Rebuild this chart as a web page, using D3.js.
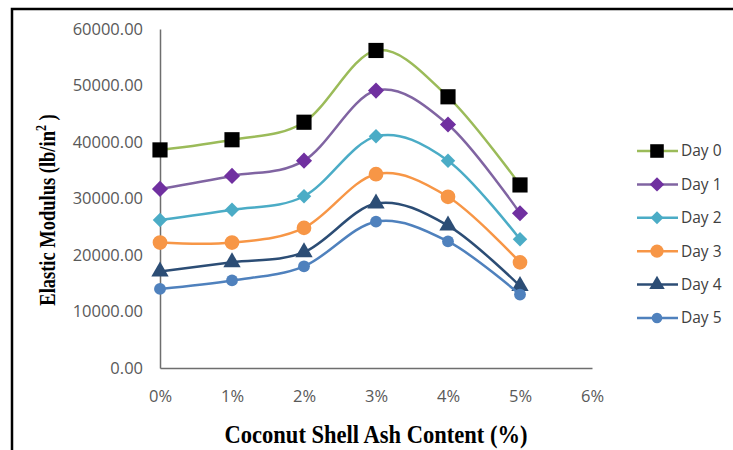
<!DOCTYPE html>
<html>
<head>
<meta charset="utf-8">
<script src="https://cdn.jsdelivr.net/npm/d3@7"></script>
<style>
  body { margin: 0; background: #fff; }
  svg { display: block; }
  .tick-label { font-family: "Open Sans", sans-serif; fill: #595959; }
  .title { font-family: "Liberation Serif", "Times New Roman", serif; font-weight: bold; fill: #000; }
  .legend-label { font-family: "Open Sans", sans-serif; fill: #404040; }
</style>
</head>
<body>
<div id="chart"></div>
<script>
// chart data
var categories = [0, 1, 2, 3, 4, 5];
var xTicks = [0, 1, 2, 3, 4, 5, 6];
var yTicks = [0, 10000, 20000, 30000, 40000, 50000, 60000];
var seriesNames = ['Day 0', 'Day 1', 'Day 2', 'Day 3', 'Day 4', 'Day 5'];
var day0 = [38600, 40400, 43500, 56200, 48000, 32400];
var day1 = [31700, 34000, 36700, 49100, 43100, 27400];
var day2 = [26200, 28000, 30400, 41000, 36700, 22800];
var day3 = [22200, 22200, 24800, 34300, 30300, 18700];
var day4 = [17100, 18700, 20500, 29100, 25200, 14500];
var day5 = [14000, 15500, 18000, 25900, 22400, 13000];

var width = 733, height = 450;
var margin = {left: 160, right: 141, top: 29, bottom: 82};

// styles per series, rot = rotate the marker (diamonds are turned squares)
var styles = [
  {line: '#9bbb59', fill: '#000000', shape: d3.symbolSquare, size: 230, rot: 0},
  {line: '#8064a2', fill: '#7030a0', shape: d3.symbolSquare, size: 130, rot: 45},
  {line: '#4bacc6', fill: '#4bacc6', shape: d3.symbolSquare, size: 105, rot: 45},
  {line: '#f79646', fill: '#f79646', shape: d3.symbolCircle, size: 170, rot: 0},
  {line: '#2c4d75', fill: '#2c4d75', shape: d3.symbolTriangle, size: 130, rot: 0},
  {line: '#4f81bd', fill: '#4f81bd', shape: d3.symbolCircle, size: 110, rot: 0}
];

var seriesValues = [day0, day1, day2, day3, day4, day5];

var svg = d3.select('#chart').append('svg')
  .attr('width', width)
  .attr('height', height);

// outer frame
svg.append('rect')
  .attr('x', 12)
  .attr('y', 9)
  .attr('width', width)
  .attr('height', height)
  .attr('fill', 'none')
  .attr('stroke', '#000')
  .attr('stroke-width', 2.5);

var x = d3.scaleLinear()
  .domain([0, 6])
  .range([margin.left, width - margin.right]);

var y = d3.scaleLinear()
  .domain([0, 60000])
  .range([height - margin.bottom, margin.top]);

// y axis
var yAxis = svg.append('g')
  .attr('transform', 'translate(' + margin.left + ',0)')
  .call(d3.axisLeft(y).tickValues(yTicks).tickSize(0).tickPadding(17)
    .tickFormat(d3.format('.2f')));
yAxis.select('.domain').attr('stroke', '#6e6e6e').attr('stroke-width', 1.5);
yAxis.selectAll('text').attr('class', 'tick-label').style('font-size', '16.5px');

// x axis
var xAxis = svg.append('g')
  .attr('transform', 'translate(0,' + (height - margin.bottom) + ')')
  .call(d3.axisBottom(x).tickValues(xTicks).tickSize(0).tickPadding(22)
    .tickFormat(function(d) { return d + '%'; }));
xAxis.select('.domain').attr('stroke', '#6e6e6e').attr('stroke-width', 1.5);
xAxis.selectAll('text').attr('class', 'tick-label').style('font-size', '16.5px');

// axis titles (the original is a bit stretched, hence the scale)
var yTitle = svg.append('text')
  .attr('class', 'title')
  .attr('transform', 'translate(55,210) rotate(-90) scale(1,1.3)')
  .attr('text-anchor', 'middle')
  .style('font-size', '18.5px');
yTitle.append('tspan').text('Elastic Modulus (lb/in');
yTitle.append('tspan').attr('dy', -7).style('font-size', '12px').text('2');
yTitle.append('tspan').attr('dy', 7).text(' )');

svg.append('text')
  .attr('class', 'title')
  .attr('transform', 'translate(376,443) scale(1,1.12)')
  .attr('text-anchor', 'middle')
  .attr('textLength', 303)
  .attr('lengthAdjust', 'spacingAndGlyphs')
  .style('font-size', '22px')
  .text('Coconut Shell Ash Content (%)');

// smoothed lines like excel
var line = d3.line()
  .x(function(d, i) { return x(categories[i]); })
  .y(function(d) { return y(d); })
  .curve(d3.curveCatmullRom.alpha(0));

seriesValues.forEach(function(values, s) {
  var st = styles[s];
  var g = svg.append('g');
  g.append('path')
    .datum(values)
    .attr('d', line)
    .attr('fill', 'none')
    .attr('stroke', st.line)
    .attr('stroke-width', 2.5);
  g.selectAll('path.marker')
    .data(values)
    .enter().append('path')
    .attr('class', 'marker')
    .attr('d', d3.symbol().type(st.shape).size(st.size))
    .attr('transform', function(d, i) {
      return 'translate(' + x(categories[i]) + ',' + y(d) + ') rotate(' + st.rot + ')';
    })
    .attr('fill', st.fill);
});

// legend
var legend = svg.append('g');
seriesNames.forEach(function(name, s) {
  var st = styles[s];
  var ly = 151 + s * 33.4;
  legend.append('line')
    .attr('x1', 637).attr('x2', 678)
    .attr('y1', ly).attr('y2', ly)
    .attr('stroke', st.line)
    .attr('stroke-width', 2.5);
  legend.append('path')
    .attr('d', d3.symbol().type(st.shape).size(st.size * 0.8))
    .attr('transform', 'translate(657,' + ly + ') rotate(' + st.rot + ')')
    .attr('fill', st.fill);
  legend.append('text')
    .attr('class', 'legend-label')
    .attr('x', 681)
    .attr('y', ly)
    .attr('dy', '0.35em')
    .style('font-size', '15.5px')
    .text(name);
});
</script>
</body>
</html>
